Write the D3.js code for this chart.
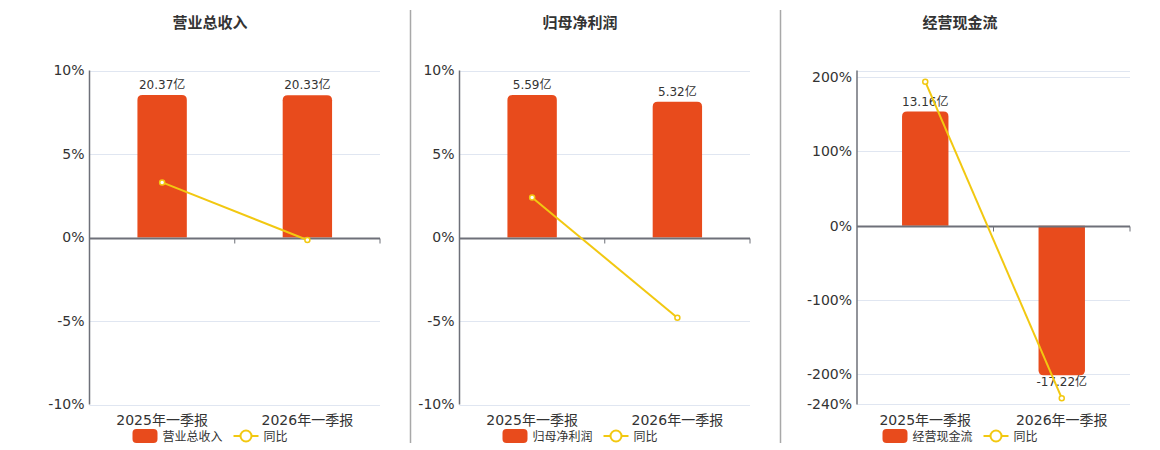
<!DOCTYPE html>
<html>
<head>
<meta charset="utf-8">
<script src="https://cdn.jsdelivr.net/npm/d3@7/dist/d3.min.js"></script>
<style>
  body { margin: 0; background: #fff; }
  svg { display: block; font-family: "DejaVu Sans", "Noto Sans CJK SC", sans-serif; }
</style>
</head>
<body>
<svg width="1160" height="450"></svg>
<script>
var categories = ['2025年一季报', '2026年一季报'];

var titles = ['营业总收入', '归母净利润', '经营现金流'];

// bar values, 亿
var revenue = [20.37, 20.33];
var netProfit = [5.59, 5.32];
var cashFlow = [13.16, -17.22];

// 同比, %
var revenueYoy = [3.3, -0.15];
var netProfitYoy = [2.4, -4.8];
var cashFlowYoy = [194, -232];

var pctTicks = [
    [-10, -5, 0, 5, 10],
    [-10, -5, 0, 5, 10],
    [-240, -200, -100, 0, 100, 200]
];

var svg = d3.select('svg'),
    barColor = '#e84b1c',
    lineColor = '#f2c811';

var panels = [
    { title: titles[0], bars: revenue, yoy: revenueYoy, ticks: pctTicks[0],
      left: 89.5, right: 380, cx: 210, pct: [-10, 10], bar: [-23.86, 23.86] },
    { title: titles[1], bars: netProfit, yoy: netProfitYoy, ticks: pctTicks[1],
      left: 459.5, right: 750, cx: 580, pct: [-10, 10], bar: [-6.55, 6.55] },
    { title: titles[2], bars: cashFlow, yoy: cashFlowYoy, ticks: pctTicks[2],
      left: 857, right: 1130, cx: 960, pct: [-240.5, 209], bar: [-20.6, 17.9] }
];

var plotTop = 70.5, plotBottom = 404.5;

// separators
[410.5, 780.5].forEach(function (x) {
    svg.append('line')
        .attr('x1', x).attr('x2', x).attr('y1', 10).attr('y2', 443)
        .attr('stroke', '#a8a8a8').attr('stroke-width', 1.5);
});

panels.forEach(drawPanel);

function drawPanel(p) {
    var g = svg.append('g');

    var x = d3.scaleBand().domain(categories).range([p.left, p.right]);
    var y = d3.scaleLinear().domain(p.pct).range([plotBottom, plotTop]);
    var yBar = d3.scaleLinear().domain(p.bar).range([plotBottom, plotTop]);

    g.append('text')
        .attr('x', p.cx).attr('y', 28)
        .attr('text-anchor', 'middle')
        .attr('font-size', 15).attr('font-weight', 'bold')
        .attr('fill', '#333')
        .text(p.title);

    // grid
    var gridVals = p.ticks.concat([p.pct[1]]);
    g.selectAll('.grid').data(gridVals).enter().append('line')
        .attr('x1', p.left).attr('x2', p.right)
        .attr('y1', function (d) { return Math.round(y(d)) + 0.5; })
        .attr('y2', function (d) { return Math.round(y(d)) + 0.5; })
        .attr('stroke', '#e0e6f1').attr('stroke-width', 1);

    // left axis
    var yAxis = g.append('g')
        .attr('transform', 'translate(' + p.left + ',0)')
        .call(d3.axisLeft(y).tickValues(p.ticks).tickSize(0).tickPadding(5)
            .tickFormat(function (d) { return d + '%'; }));
    yAxis.select('.domain').remove();
    yAxis.selectAll('text').attr('font-size', 14).attr('fill', '#333')
        .attr('font-family', '"DejaVu Sans", sans-serif');
    g.append('line')
        .attr('x1', p.left).attr('x2', p.left).attr('y1', plotTop).attr('y2', plotBottom)
        .attr('stroke', '#6e7079').attr('stroke-width', 1.5);

    // bars
    var bw = x.bandwidth() * 0.34;
    g.selectAll('.bar').data(p.bars).enter().append('path')
        .attr('fill', barColor)
        .attr('d', function (d, i) {
            var x0 = x(categories[i]) + (x.bandwidth() - bw) / 2,
                y0 = yBar(0), y1 = yBar(d), r = 5;
            var p2 = d3.path();
            if (d >= 0) {
                p2.moveTo(x0, y0);
                p2.lineTo(x0, y1 + r);
                p2.quadraticCurveTo(x0, y1, x0 + r, y1);
                p2.lineTo(x0 + bw - r, y1);
                p2.quadraticCurveTo(x0 + bw, y1, x0 + bw, y1 + r);
                p2.lineTo(x0 + bw, y0);
            } else {
                p2.moveTo(x0, y0);
                p2.lineTo(x0, y1 - r);
                p2.quadraticCurveTo(x0, y1, x0 + r, y1);
                p2.lineTo(x0 + bw - r, y1);
                p2.quadraticCurveTo(x0 + bw, y1, x0 + bw, y1 - r);
                p2.lineTo(x0 + bw, y0);
            }
            p2.closePath();
            return p2.toString();
        });

    g.selectAll('.blabel').data(p.bars).enter().append('text')
        .attr('x', function (d, i) { return x(categories[i]) + x.bandwidth() / 2; })
        .attr('y', function (d) { return d >= 0 ? yBar(d) - 6 : yBar(d) + 11; })
        .attr('text-anchor', 'middle')
        .attr('font-size', 12).attr('fill', '#333')
        .text(function (d) { return d.toFixed(2) + '亿'; });

    // zero axis line + ticks
    var zeroY = Math.round(y(0)) + 0.5;
    g.append('line')
        .attr('x1', p.left).attr('x2', p.right).attr('y1', zeroY).attr('y2', zeroY)
        .attr('stroke', '#6e7079').attr('stroke-width', 2);
    g.selectAll('.xtick').data(categories).enter().append('line')
        .attr('x1', function (d) { return x(d) + x.bandwidth(); })
        .attr('x2', function (d) { return x(d) + x.bandwidth(); })
        .attr('y1', zeroY).attr('y2', zeroY + 5)
        .attr('stroke', '#6e7079').attr('stroke-width', 1);

    // category labels
    g.selectAll('.xlabel').data(categories).enter().append('text')
        .attr('x', function (d) { return x(d) + x.bandwidth() / 2; })
        .attr('y', 425)
        .attr('text-anchor', 'middle')
        .attr('font-size', 14).attr('fill', '#333')
        .text(function (d) { return d; });

    // yoy line
    var line = d3.line()
        .x(function (d, i) { return x(categories[i]) + x.bandwidth() / 2; })
        .y(function (d) { return y(d); });
    g.append('path').datum(p.yoy)
        .attr('d', line)
        .attr('fill', 'none').attr('stroke', lineColor).attr('stroke-width', 2);
    g.selectAll('.pt').data(p.yoy).enter().append('circle')
        .attr('cx', function (d, i) { return x(categories[i]) + x.bandwidth() / 2; })
        .attr('cy', function (d) { return y(d); })
        .attr('r', 2.5)
        .attr('fill', '#fff').attr('stroke', lineColor).attr('stroke-width', 1.5);

    // legend
    var nameW = p.title.length * 12;
    var total = 25 + 5 + nameW + 11 + 25 + 5 + 24;
    var lx = p.cx - total / 2, ly = 436;
    var lg = g.append('g');
    lg.append('rect')
        .attr('x', lx).attr('y', ly - 7).attr('width', 25).attr('height', 14)
        .attr('rx', 4).attr('fill', barColor);
    lg.append('text')
        .attr('x', lx + 30).attr('y', ly + 4.5)
        .attr('font-size', 12).attr('fill', '#333')
        .text(p.title);
    var l2 = lx + 30 + nameW + 11;
    lg.append('line')
        .attr('x1', l2).attr('x2', l2 + 25).attr('y1', ly).attr('y2', ly)
        .attr('stroke', lineColor).attr('stroke-width', 2);
    lg.append('circle')
        .attr('cx', l2 + 12.5).attr('cy', ly).attr('r', 5.5)
        .attr('fill', '#fff').attr('stroke', lineColor).attr('stroke-width', 2);
    lg.append('text')
        .attr('x', l2 + 30).attr('y', ly + 4.5)
        .attr('font-size', 12).attr('fill', '#333')
        .text('同比');
}
</script>
</body>
</html>
